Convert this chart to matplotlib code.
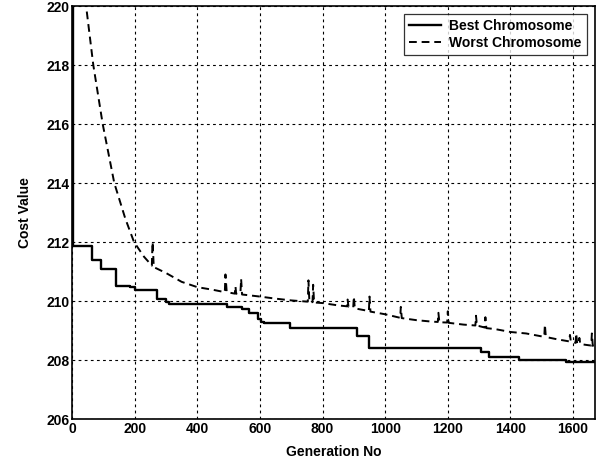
import matplotlib
matplotlib.use("Agg")
import matplotlib.pyplot as plt

# Best chromosome (step function)
best_gen = [0, 2, 65, 93, 140, 185, 202, 271, 300, 310, 495, 543, 565, 595, 605, 614, 695, 909, 948, 1306, 1331, 1428, 1578, 1670]
best_cost = [222, 211.85, 211.4, 211.07, 210.52, 210.46, 210.37, 210.07, 209.97, 209.89, 209.8, 209.72, 209.58, 209.4, 209.3, 209.24, 209.07, 208.82, 208.42, 208.28, 208.11, 208.0, 207.92, 207.92]

# Worst chromosome (decreasing with spikes)
worst_gen = [0, 20, 45, 68, 98, 135, 170, 198, 230, 255, 257, 258, 261, 300, 350, 400, 450, 488, 490, 492, 494, 520, 522, 524, 530, 538, 540, 543, 560, 600, 650, 700, 750, 753, 755, 758, 768, 770, 773,
             800, 850, 878, 880, 883, 898, 900, 903, 948, 950, 953, 1000, 1048, 1050, 1053, 1100, 1150, 1168, 1170, 1173, 1198, 1200, 1203, 1250,
             1288, 1290, 1293, 1300, 1318, 1320, 1323, 1350, 1400, 1450, 1500, 1508, 1510, 1513, 1550, 1588, 1590, 1593, 1600, 1608, 1610, 1613, 1618, 1620, 1623, 1650, 1658, 1660, 1663, 1670]
worst_cost = [224, 222, 220, 218, 216, 214, 212.8, 212.0, 211.5, 211.2, 212.0, 211.9, 211.15, 210.95, 210.65, 210.47, 210.38, 210.3, 210.9, 210.6, 210.3, 210.25, 210.5, 210.25, 210.24, 210.3, 210.75, 210.22, 210.2, 210.15, 210.08, 210.02, 209.98, 209.98, 210.7, 209.97, 209.96, 210.55, 209.95,
              209.93, 209.85, 209.82, 210.05, 209.8, 209.78, 210.15, 209.75, 209.66, 210.15, 209.64, 209.55, 209.43, 209.8, 209.42, 209.35, 209.3, 209.29, 209.6, 209.28, 209.27, 209.65, 209.26, 209.2,
              209.17, 209.5, 209.16, 209.15, 209.1, 209.45, 209.08, 209.05, 208.95, 208.9, 208.8, 208.79, 209.2, 208.78, 208.7, 208.63, 208.85, 208.62, 208.6, 208.58, 208.9, 208.56, 208.55, 208.75, 208.54, 208.5, 208.49, 208.9, 208.48, 208.48]

xticks = [0, 200, 400, 600, 800, 1000, 1200, 1400, 1600]
yticks = [206, 208, 210, 212, 214, 216, 218, 220]

plt.rcParams['font.family'] = ['Liberation Sans', 'DejaVu Sans']
plt.rcParams['font.weight'] = 'bold'
fs = 10

fig = plt.figure(figsize=(6.07, 4.68), dpi=100)
ax = fig.add_axes([72/607, 1-419/468, (595-72)/607, (419-6)/468])

ax.plot(best_gen, best_cost, color='black', lw=1.7, drawstyle='steps-post', label='Best Chromosome')
ax.plot(worst_gen, worst_cost, color='black', lw=1.4, linestyle=(0, (4, 2.5)), label='Worst Chromosome')

ax.set_xlim(0, 1670)
ax.set_ylim(206, 220)
ax.set_xticks(xticks)
ax.set_yticks(yticks)
ax.tick_params(labelsize=fs, direction='in', length=0, pad=2)
for lbl in ax.get_xticklabels() + ax.get_yticklabels():
    lbl.set_fontweight('bold')
ax.grid(True, color='black', linestyle=(0, (2.5, 3)), linewidth=0.8)
for s in ax.spines.values():
    s.set_linewidth(1.2)

ax.set_xlabel('Generation No', fontsize=fs, fontweight='bold', labelpad=7)
ax.set_ylabel('Cost Value', fontsize=fs, fontweight='bold', labelpad=10)

leg = ax.legend(loc='upper right', fontsize=fs, frameon=True, fancybox=False, edgecolor='black',
                handlelength=2.3, borderaxespad=0.6, labelspacing=0.2, borderpad=0.35, handletextpad=0.6)
leg.get_frame().set_linewidth(0.9)
for t in leg.get_texts():
    t.set_fontweight('bold')

fig.savefig('out.png', dpi=100)
